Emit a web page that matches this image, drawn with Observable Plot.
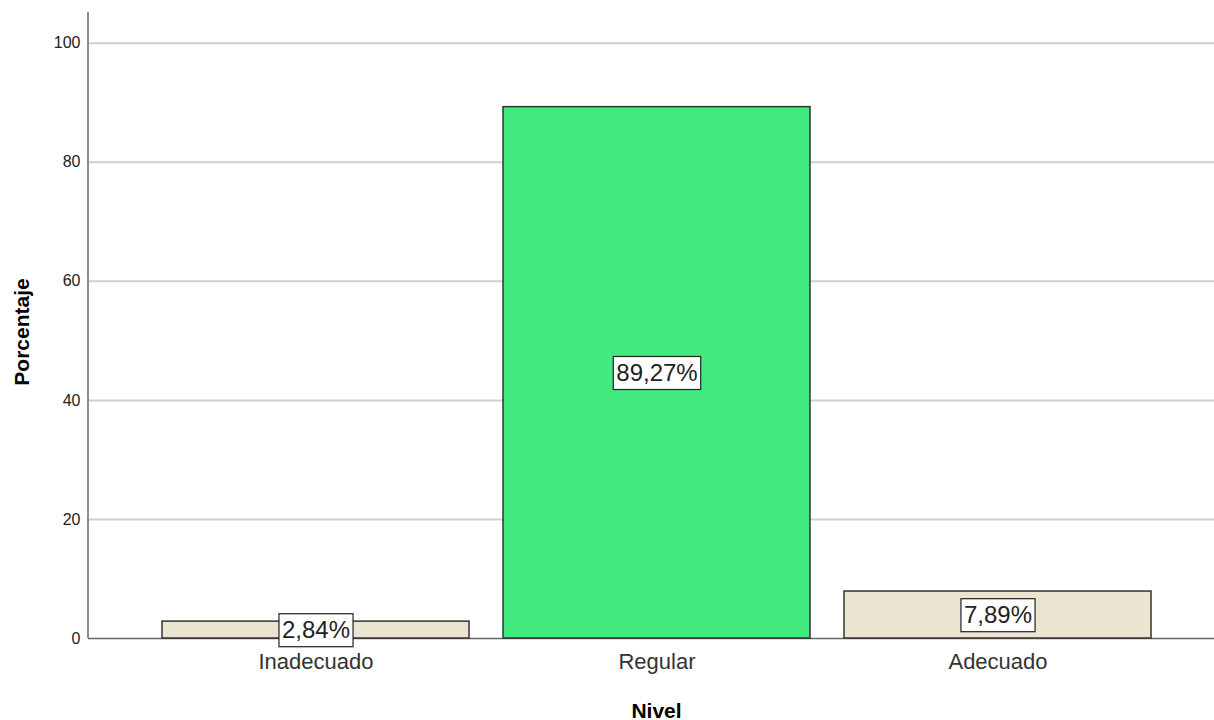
<!DOCTYPE html>
<html>
<head>
<meta charset="utf-8">
<script src="https://cdn.jsdelivr.net/npm/d3@7"></script>
<script src="https://cdn.jsdelivr.net/npm/@observablehq/plot@0.6"></script>
<style>
  html, body { margin: 0; padding: 0; background: #fff; }
</style>
</head>
<body>
<div id="chart"></div>
<script>
const niveles = ["Inadecuado", "Regular", "Adecuado"];
const porcentajes = [2.84, 89.27, 7.89];
const colores = ["#EAE4D0", "#42E97F", "#EAE4D0"];
const yTicks = [0, 20, 40, 60, 80, 100];
const gridTicks = [20, 40, 60, 80, 100];

const data = niveles.map((n, i) => ({ nivel: n, valor: porcentajes[i] }));
const fmt = v => v.toFixed(2).replace(".", ",") + "%";

const plot = Plot.plot({
  width: 1214,
  height: 720,
  marginLeft: 88,
  marginRight: 0,
  marginTop: 13,
  marginBottom: 82,
  style: { fontFamily: "'Liberation Sans', Arial, sans-serif", background: "#fff" },
  x: { type: "band", domain: niveles, range: [145, 1168], paddingInner: 0.1, paddingOuter: 0.05 },
  y: { domain: [0, 105] },
  color: { domain: niveles, range: colores },
  marks: [
    Plot.ruleY(gridTicks, { stroke: "#d0d0d0", strokeWidth: 2 }),
    Plot.axisY({ ticks: yTicks, tickSize: 0, tickPadding: 8, fontSize: 16, fill: "#222", label: null }),
    Plot.axisX({ tickSize: 0, tickPadding: 15, fontSize: 22, fill: "#333", label: null }),
    Plot.ruleY([0], { stroke: "#666", strokeWidth: 1.5 }),
    Plot.barY(data, { x: "nivel", y: "valor", fill: "nivel", stroke: "#333", strokeWidth: 1.5 }),
    Plot.text(data, { x: "nivel", y: d => d.valor / 2, text: d => fmt(d.valor), fontSize: 24, fill: "#222" }),
    Plot.text(["Porcentaje"], { frameAnchor: "left", textAnchor: "middle", rotate: -90, dx: -66, dy: 6, fontSize: 21, fontWeight: "bold", fill: "#000" }),
    Plot.text(["Nivel"], { frameAnchor: "bottom", lineAnchor: "bottom", dx: 5, dy: 79, fontSize: 21, fontWeight: "bold", fill: "#000" })
  ]
});

document.getElementById("chart").appendChild(plot);

// Y axis line along the frame's left edge, spanning the y scale range
const svg = d3.select(plot);
const yr = plot.scale("y").range;
svg.append("line")
  .attr("x1", 88).attr("x2", 88)
  .attr("y1", Math.min(...yr) - 1).attr("y2", Math.max(...yr))
  .attr("stroke", "#8c8c8c").attr("stroke-width", 2);

// White boxes behind the value labels
const labelSet = new Set(porcentajes.map(fmt));
svg.selectAll("text").filter(function () { return labelSet.has(this.textContent); }).each(function () {
  const b = this.getBBox();
  const padX = 3, padY = 4;
  const r = document.createElementNS("http://www.w3.org/2000/svg", "rect");
  r.setAttribute("x", b.x - padX);
  r.setAttribute("y", b.y - padY + 2);
  r.setAttribute("width", b.width + 2 * padX);
  r.setAttribute("height", b.height + 2 * padY - 2);
  r.setAttribute("fill", "#fff");
  r.setAttribute("stroke", "#222");
  r.setAttribute("stroke-width", 1.2);
  const t = this.getAttribute("transform");
  if (t) r.setAttribute("transform", t);
  this.parentNode.insertBefore(r, this);
});
</script>
</body>
</html>
